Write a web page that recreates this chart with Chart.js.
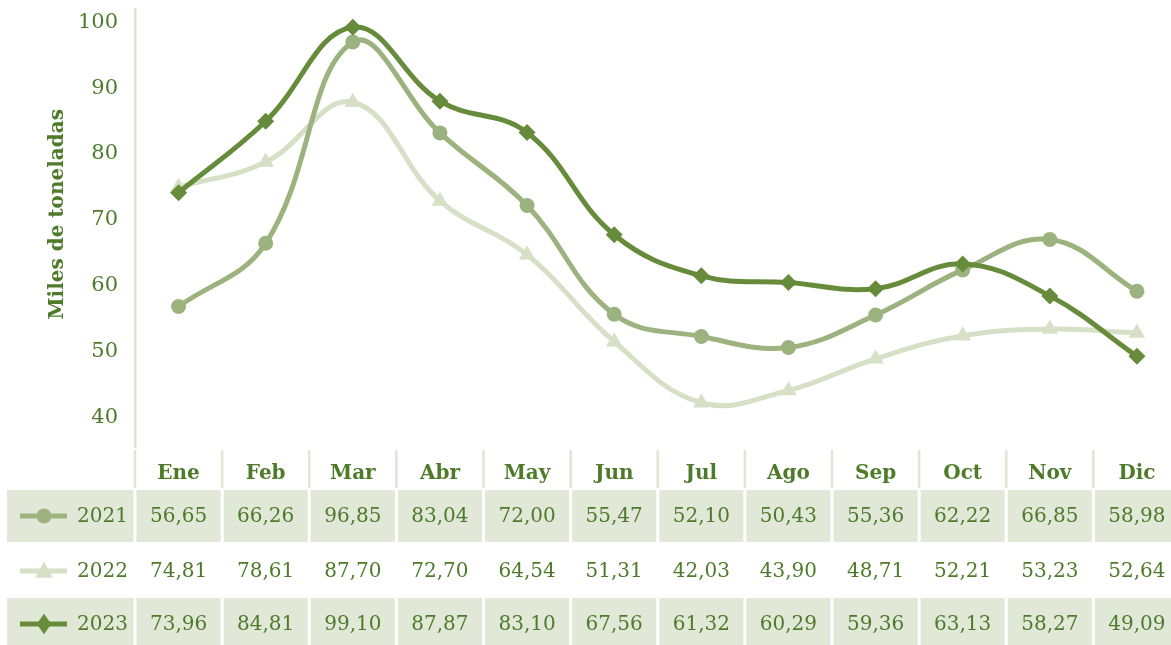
<!DOCTYPE html>
<html lang="es">
<head>
<meta charset="UTF-8" />
<title>Miles de toneladas</title>
<script src="https://cdn.jsdelivr.net/npm/chart.js@4.4.1/dist/chart.umd.min.js"></script>
<style>
  html,body{margin:0;padding:0;background:#fff;overflow:hidden}
  #wrap{position:relative;width:1190px;height:645px}
</style>
</head>
<body>
<div id="wrap"><canvas id="c"></canvas></div>
<script>
const months = ['Ene', 'Feb', 'Mar', 'Abr', 'May', 'Jun', 'Jul', 'Ago', 'Sep', 'Oct', 'Nov', 'Dic'];
const years = ['2021', '2022', '2023'];
const v2021 = [56.65, 66.26, 96.85, 83.04, 72.00, 55.47, 52.10, 50.43, 55.36, 62.22, 66.85, 58.98];
const v2022 = [74.81, 78.61, 87.70, 72.70, 64.54, 51.31, 42.03, 43.90, 48.71, 52.21, 53.23, 52.64];
const v2023 = [73.96, 84.81, 99.10, 87.87, 83.10, 67.56, 61.32, 60.29, 59.36, 63.13, 58.27, 49.09];
const yTicks = [40, 50, 60, 70, 80, 90, 100];

const TXT = '#4e7b2a';
const FILL = '#e2e8d8';
const SERIF = "'DejaVu Serif', serif";
const colors = ['#9db37f', '#d6e0c7', '#668b3b'];
const shapes = ['circle', 'triangle', 'rectRot'];
const sizes = [7.5, 9.5, 8.5];
const series = [v2021, v2022, v2023];

const fmt = (n) => n.toFixed(2).replace('.', ',');

function drawMarker(ctx, shape, x, y, r, color) {
  ctx.save();
  ctx.fillStyle = color;
  ctx.beginPath();
  if (shape === 'circle') {
    ctx.arc(x, y, r, 0, Math.PI * 2);
  } else if (shape === 'triangle') {
    ctx.moveTo(x, y - r);
    ctx.lineTo(x + r * 0.95, y + r * 0.7);
    ctx.lineTo(x - r * 0.95, y + r * 0.7);
    ctx.closePath();
  } else {
    ctx.moveTo(x, y - r * 1.2);
    ctx.lineTo(x + r * 0.85, y);
    ctx.lineTo(x, y + r * 1.2);
    ctx.lineTo(x - r * 0.85, y);
    ctx.closePath();
  }
  ctx.fill();
  ctx.restore();
}

// y tick labels + data table under the plot (columns follow the x scale)
const dataTable = {
  id: 'dataTable',
  afterDraw(chart) {
    const ctx = chart.ctx;
    const x = chart.scales.x;
    const y = chart.scales.y;
    const area = chart.chartArea;
    const half = (x.getPixelForValue(1) - x.getPixelForValue(0)) / 2;
    const headTop = area.bottom + 3, headBottom = area.bottom + 41;
    const rowTops = [area.bottom + 43, area.bottom + 98, area.bottom + 151];
    const rowH = 52;

    ctx.save();
    ctx.fillStyle = TXT;
    ctx.font = '21px ' + SERIF;
    ctx.textAlign = 'right';
    ctx.textBaseline = 'middle';
    yTicks.forEach((t) => ctx.fillText(String(t), area.left - 17, y.getPixelForValue(t) + 1));

    // header separators
    ctx.strokeStyle = '#dfe6d5';
    ctx.lineWidth = 2.5;
    for (let i = 0; i <= months.length; i++) {
      const bx = x.getPixelForValue(0) - half + i * half * 2;
      ctx.beginPath();
      ctx.moveTo(bx, headTop);
      ctx.lineTo(bx, headBottom);
      ctx.stroke();
    }
    ctx.fillStyle = TXT;
    ctx.font = 'bold 20px ' + SERIF;
    ctx.textAlign = 'center';
    months.forEach((m, i) => ctx.fillText(m, x.getPixelForValue(i), (headTop + headBottom) / 2 + 5));

    rowTops.forEach((top, r) => {
      if (r !== 1) {
        ctx.fillStyle = FILL;
        ctx.fillRect(7, top, area.left - 1.5 - 7, rowH);
        months.forEach((m, i) => {
          const cx = x.getPixelForValue(i);
          ctx.fillRect(cx - half + 1.5, top, half * 2 - 3, rowH);
        });
      }
      const cy = top + rowH / 2;
      // legend key
      ctx.strokeStyle = colors[r];
      ctx.lineWidth = 5;
      ctx.beginPath();
      ctx.moveTo(20, cy);
      ctx.lineTo(67, cy);
      ctx.stroke();
      drawMarker(ctx, shapes[r], 44, cy, sizes[r], colors[r]);
      ctx.fillStyle = TXT;
      ctx.font = '20px ' + SERIF;
      ctx.textAlign = 'right';
      ctx.fillText(years[r], 128, cy + 1);
      ctx.textAlign = 'center';
      series[r].forEach((v, i) => ctx.fillText(fmt(v), x.getPixelForValue(i), cy + 1));
    });
    ctx.restore();
  }
};

new Chart(document.getElementById('c'), {
  type: 'line',
  data: {
    labels: months,
    datasets: years.map((yr, r) => ({
      label: yr,
      data: series[r],
      borderColor: colors[r],
      backgroundColor: colors[r],
      borderWidth: 5,
      pointStyle: shapes[r],
      pointRadius: sizes[r],
      pointBorderWidth: 0,
      tension: 0.4,
      order: [2, 3, 1][r]
    }))
  },
  options: {
    responsive: true,
    maintainAspectRatio: false,
    animation: false,
    layout: { padding: { top: 5, bottom: 198, left: 0, right: 0 } },
    plugins: { legend: { display: false }, tooltip: { enabled: false } },
    scales: {
      x: { display: false, offset: true },
      y: {
        min: 35.3,
        max: 101.8,
        afterBuildTicks: (s) => { s.ticks = yTicks.map((v) => ({ value: v })); },
        afterFit: (s) => { s.width = 135; },
        grid: { display: false, drawTicks: false },
        border: { display: true, color: '#dde5d2', width: 2.5 },
        ticks: { display: false },
        title: {
          display: true,
          text: '    Miles de toneladas',
          color: TXT,
          font: { family: SERIF, size: 20, weight: 'bold' },
          padding: { top: 46, bottom: 0 }
        }
      }
    }
  },
  plugins: [dataTable]
});
</script>
</body>
</html>
